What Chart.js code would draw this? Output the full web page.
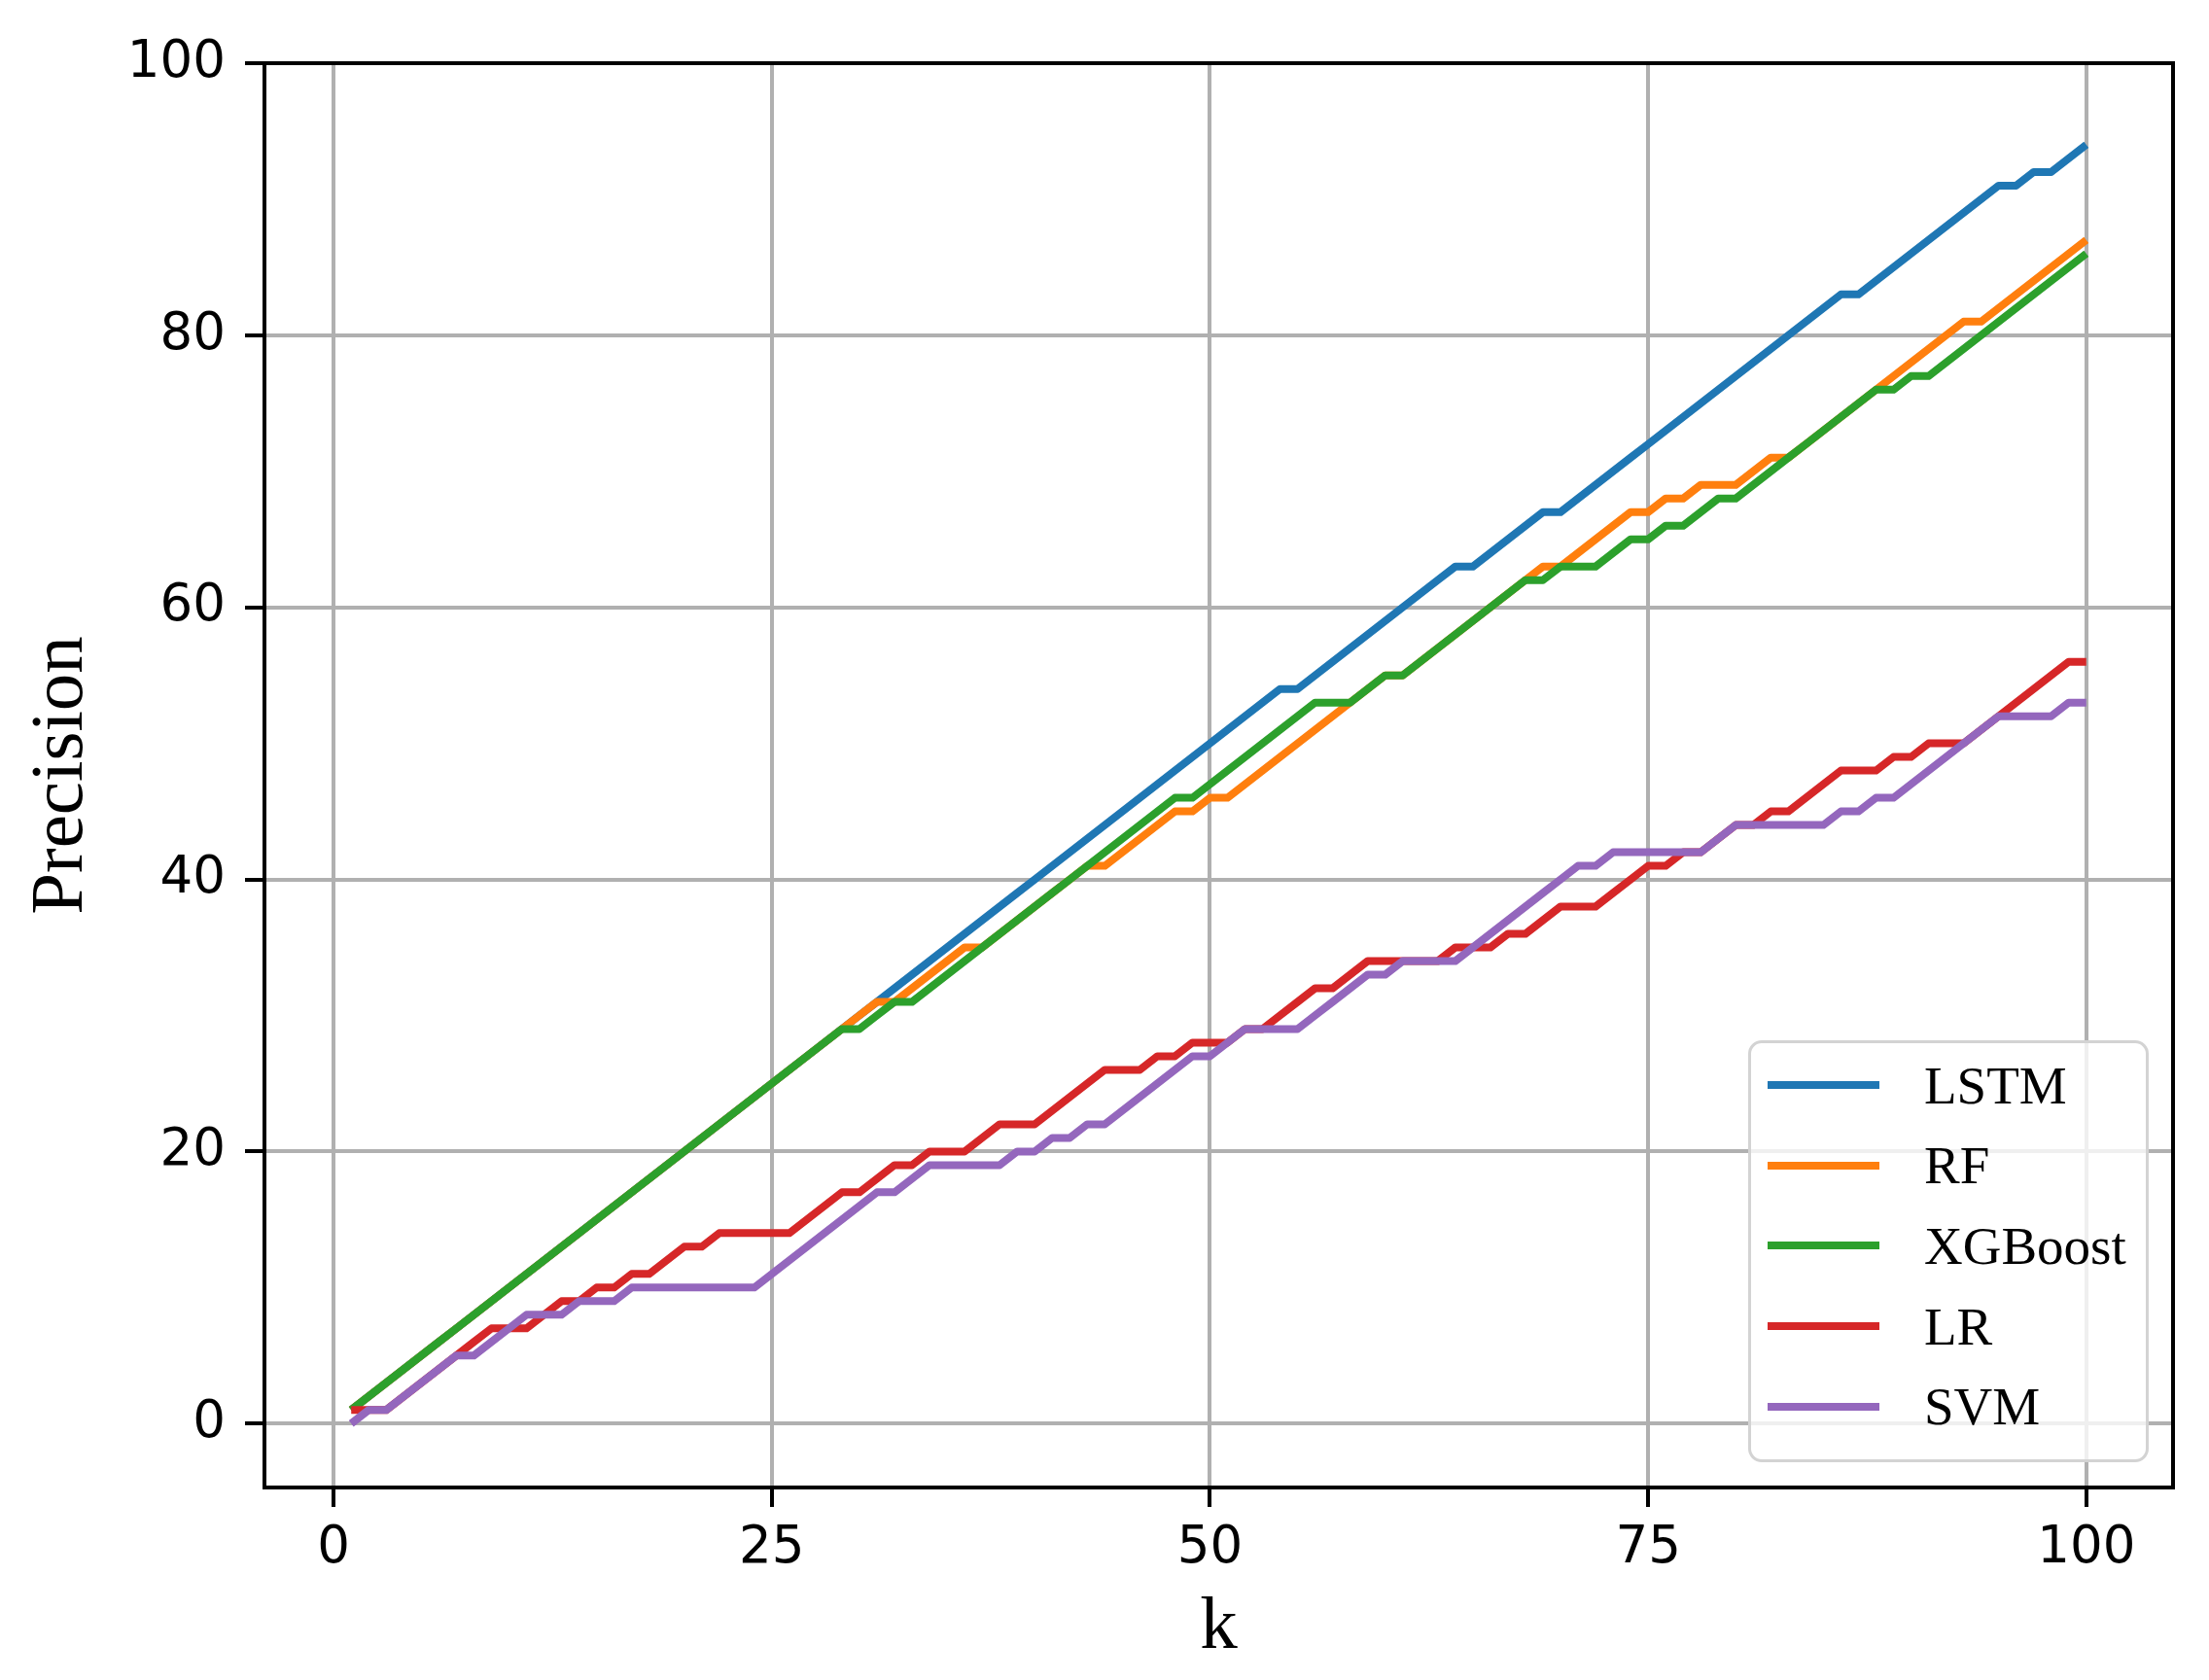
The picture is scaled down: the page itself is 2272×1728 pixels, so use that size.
<!DOCTYPE html>
<html>
<head>
<meta charset="utf-8">
<title>Precision vs k</title>
<script src="https://cdn.jsdelivr.net/npm/chart.js@4.4.1/dist/chart.umd.min.js"></script>
<style>
  html, body { margin: 0; padding: 0; background: #fff; }
  #wrap { position: relative; width: 2272px; height: 1728px; }
  #legend {
    position: absolute; left: 1798px; top: 1070px; width: 406px; height: 428px;
    border: 3px solid #d3d3d3; border-radius: 14px; background: rgba(255,255,255,0.8);
    font-family: "Liberation Serif", serif; font-size: 55px; color: #000;
  }
  .row { position: absolute; left: 0; height: 70px; display: flex; align-items: center; white-space: nowrap; }
  .swatch { margin-left: 17px; width: 115px; height: 8px; }
  .label { margin-left: 46px; }
</style>
</head>
<body>
<div id="wrap">
  <canvas id="chart" width="2272" height="1728"></canvas>
  <div id="legend"></div>
</div>
<script>
// k 与各模型的 Precision 数值
const k = [1,2,3,4,5,6,7,8,9,10,11,12,13,14,15,16,17,18,19,20,
  21,22,23,24,25,26,27,28,29,30,31,32,33,34,35,36,37,38,39,40,
  41,42,43,44,45,46,47,48,49,50,51,52,53,54,55,56,57,58,59,60,
  61,62,63,64,65,66,67,68,69,70,71,72,73,74,75,76,77,78,79,80,
  81,82,83,84,85,86,87,88,89,90,91,92,93,94,95,96,97,98,99,100]

const lstm = [1,2,3,4,5,6,7,8,9,10,11,12,13,14,15,16,17,18,19,20,
  21,22,23,24,25,26,27,28,29,30,31,32,33,34,35,36,37,38,39,40,
  41,42,43,44,45,46,47,48,49,50,51,52,53,54,54,55,56,57,58,59,
  60,61,62,63,63,64,65,66,67,67,68,69,70,71,72,73,74,75,76,77,
  78,79,80,81,82,83,83,84,85,86,87,88,89,90,91,91,92,92,93,94]

const rf = [1,2,3,4,5,6,7,8,9,10,11,12,13,14,15,16,17,18,19,20,
  21,22,23,24,25,26,27,28,29,30,31,31,32,33,34,35,35,36,37,38,
  39,40,41,41,42,43,44,45,45,46,46,47,48,49,50,51,52,53,54,55,
  55,56,57,58,59,60,61,62,63,63,64,65,66,67,67,68,68,69,69,69,
  70,71,71,72,73,74,75,76,77,78,79,80,81,81,82,83,84,85,86,87]

const xgboost = [1,2,3,4,5,6,7,8,9,10,11,12,13,14,15,16,17,18,19,20,
  21,22,23,24,25,26,27,28,29,29,30,31,31,32,33,34,35,36,37,38,
  39,40,41,42,43,44,45,46,46,47,48,49,50,51,52,53,53,53,54,55,
  55,56,57,58,59,60,61,62,62,63,63,63,64,65,65,66,66,67,68,68,
  69,70,71,72,73,74,75,76,76,77,77,78,79,80,81,82,83,84,85,86]

const lr = [1,1,1,2,3,4,5,6,7,7,7,8,9,9,10,10,11,11,12,13,
  13,14,14,14,14,14,15,16,17,17,18,19,19,20,20,20,21,22,22,22,
  23,24,25,26,26,26,27,27,28,28,28,29,29,30,31,32,32,33,34,34,
  34,34,34,35,35,35,36,36,37,38,38,38,39,40,41,41,42,42,43,44,
  44,45,45,46,47,48,48,48,49,49,50,50,50,51,52,53,54,55,56,56]

const svm = [0,1,1,2,3,4,5,5,6,7,8,8,8,9,9,9,10,10,10,10,
  10,10,10,10,11,12,13,14,15,16,17,17,18,19,19,19,19,19,20,20,
  21,21,22,22,23,24,25,26,27,27,28,29,29,29,29,30,31,32,33,33,
  34,34,34,34,35,36,37,38,39,40,41,41,42,42,42,42,42,42,43,44,
  44,44,44,44,44,45,45,46,46,47,48,49,50,51,52,52,52,52,53,53]

const seriesNames = ["LSTM", "RF", "XGBoost", "LR", "SVM"]
const seriesValues = [lstm, rf, xgboost, lr, svm]
const seriesColors = ["#1f77b4", "#ff7f0e", "#2ca02c", "#d62728", "#9467bd"]
const kTicks = [0, 25, 50, 75, 100]
const precisionTicks = [0, 20, 40, 60, 80, 100]

const tickFont = { family: "DejaVu Sans", size: 53 }
const titleFont = { family: "Liberation Serif", size: 77 }

// 后画的在上面，和 matplotlib 一样
const datasets = seriesNames.map((name, i) => ({
  label: name,
  data: k.map((x, j) => ({ x: x, y: seriesValues[i][j] })),
  borderColor: seriesColors[i],
  backgroundColor: seriesColors[i],
  borderWidth: 8,
  borderJoinStyle: "round",
  pointRadius: 0,
  tension: 0,
  fill: false,
  order: seriesNames.length - i
}))

// 坐标框四条边
const frame = {
  id: "frame",
  afterDatasetsDraw(chart) {
    const { ctx, chartArea: a } = chart
    ctx.save()
    ctx.strokeStyle = "#000"
    ctx.lineWidth = 4
    ctx.strokeRect(a.left, a.top, a.right - a.left, a.bottom - a.top)
    ctx.restore()
  }
}

const chart = new Chart(document.getElementById("chart").getContext("2d"), {
  type: "line",
  data: { datasets },
  options: {
    responsive: false,
    animation: false,
    devicePixelRatio: 1,
    layout: { padding: { top: 65, right: 37, left: 0, bottom: 0 } },
    plugins: { legend: { display: false }, tooltip: { enabled: false } },
    scales: {
      x: {
        type: "linear",
        min: -3.95,
        max: 104.95,
        afterBuildTicks: (s) => { s.ticks = kTicks.map(v => ({ value: v })) },
        afterFit: (s) => { s.height = 198; s.paddingLeft = 0; s.paddingRight = 0 },
        grid: { color: "#b0b0b0", lineWidth: 4, tickColor: "#000", tickWidth: 4, tickLength: 20 },
        border: { display: false },
        ticks: { color: "#000", font: tickFont, padding: 11, maxRotation: 0 },
        title: { display: true, text: "k", color: "#000", font: titleFont, padding: { top: 0, bottom: 7 } }
      },
      y: {
        min: -4.7,
        max: 100,
        afterBuildTicks: (s) => { s.ticks = precisionTicks.map(v => ({ value: v })) },
        afterFit: (s) => { s.width = 272; s.paddingTop = 0; s.paddingBottom = 0 },
        grid: { color: "#b0b0b0", lineWidth: 4, tickColor: "#000", tickWidth: 4, tickLength: 20 },
        border: { display: false },
        ticks: { color: "#000", font: tickFont, padding: 20 },
        title: { display: true, text: "Precision", color: "#000", font: titleFont, padding: { top: 18, bottom: 0 } }
      }
    }
  },
  plugins: [frame]
})

// 图例
const legend = document.getElementById("legend")
chart.data.datasets.forEach((ds, i) => {
  const row = document.createElement("div")
  row.className = "row"
  row.style.top = (8 + i * 82.7) + "px"
  row.innerHTML = `<span class="swatch" style="background:${ds.borderColor}"></span><span class="label">${ds.label}</span>`
  legend.appendChild(row)
})
</script>
</body>
</html>
